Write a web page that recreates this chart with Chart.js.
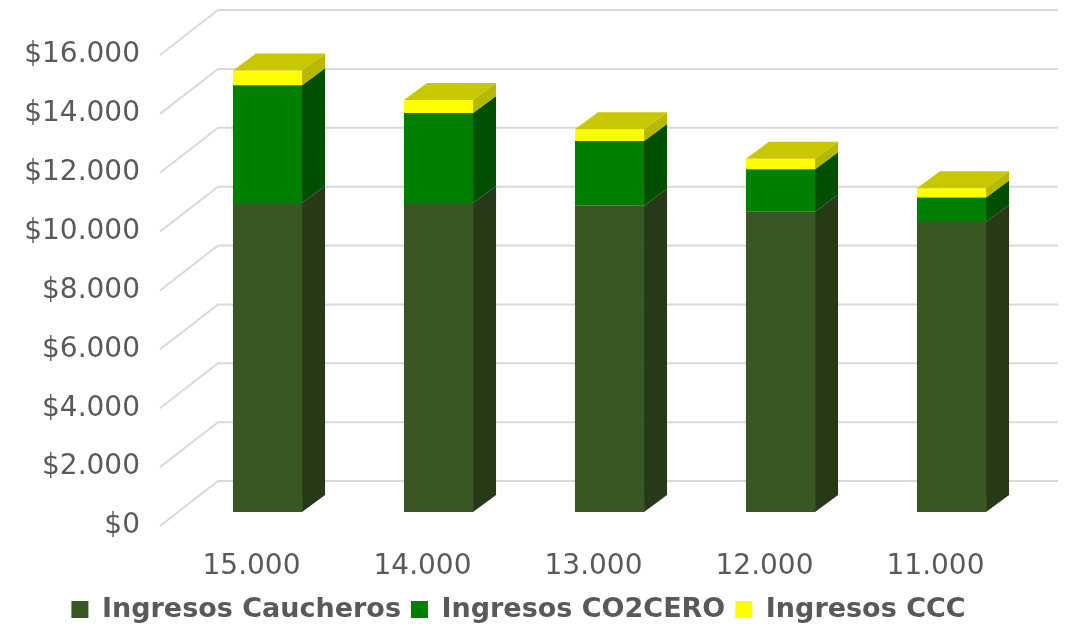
<!DOCTYPE html>
<html>
<head>
<meta charset="utf-8">
<script src="https://cdn.jsdelivr.net/npm/chart.js@4/dist/chart.umd.min.js"></script>
<style>
    html, body { margin: 0; padding: 0; background: #fff; }
    #wrap { width: 1071px; height: 629px; }
</style>
</head>
<body>
<div id="wrap"><canvas id="ingresos"></canvas></div>
<script>
const categorias = ['15.000', '14.000', '13.000', '12.000', '11.000'];
const ingresosCaucheros = [10500, 10500, 10400, 10200, 9850];
const ingresosCO2CERO = [4000, 3050, 2200, 1440, 830];
const ingresosCCC = [500, 450, 400, 360, 320];
const ejeY = {min: 0, max: 16000, paso: 2000};

const FUENTE = '"DejaVu Sans", sans-serif';
const GRIS = '#595959';

// profundidad de las barras y del "piso" (pseudo 3D)
const PROF_BARRA = {dx: 23, dy: -17};
const PISO_FRENTE = {dx: -22, dy: 14};
const PISO_FONDO = {dx: 36, dy: -31};

const caras = [
    {frente: '#3a5723', lado: '#263a17', arriba: '#4a6b2e'},
    {frente: '#007f00', lado: '#004f00', arriba: '#00a000'},
    {frente: '#ffff00', lado: '#b8b800', arriba: '#c8c800'},
];

function formatoPesos(v) {
    return '$' + String(v).replace(/\B(?=(\d{3})+(?!\d))/g, '.');
}

function poligono(ctx, pts, color) {
    ctx.beginPath();
    ctx.moveTo(pts[0][0], pts[0][1]);
    pts.slice(1).forEach(p => ctx.lineTo(p[0], p[1]));
    ctx.closePath();
    ctx.fillStyle = color;
    ctx.fill();
}

const barras3d = {
    id: 'barras3d',
    beforeDatasetsDraw(chart) {
        const {ctx, chartArea, scales: {y}} = chart;
        ctx.save();
        ctx.strokeStyle = '#d9d9d9';
        ctx.lineWidth = 2;
        y.ticks.forEach(t => {
            const py = y.getPixelForValue(t.value);
            ctx.beginPath();
            ctx.moveTo(chartArea.left + PISO_FRENTE.dx, py + PISO_FRENTE.dy);
            ctx.lineTo(chartArea.left + PISO_FONDO.dx, py + PISO_FONDO.dy);
            ctx.lineTo(chartArea.right + 21, py + PISO_FONDO.dy);
            ctx.stroke();
        });
        ctx.restore();
    },
    afterDatasetsDraw(chart) {
        const {ctx} = chart;
        const ultimo = chart.data.datasets.length - 1;
        ctx.save();
        chart.data.datasets.forEach((ds, i) => {
            chart.getDatasetMeta(i).data.forEach(el => {
                const xl = el.x - el.width / 2;
                const xr = el.x + el.width / 2;
                const {dx, dy} = PROF_BARRA;
                poligono(ctx, [[xr, el.y], [xr + dx, el.y + dy], [xr + dx, el.base + dy], [xr, el.base]], caras[i].lado);
                if (i === ultimo) {
                    poligono(ctx, [[xl, el.y], [xr, el.y], [xr + dx, el.y + dy], [xl + dx, el.y + dy]], caras[i].arriba);
                }
            });
        });
        ctx.restore();
    }
};

const serie = (label, data, i) => ({
    label: label,
    data: data,
    backgroundColor: caras[i].frente,
    borderWidth: 0,
    categoryPercentage: 1,
    barPercentage: 0.404,
});

new Chart(document.getElementById('ingresos').getContext('2d'), {
    type: 'bar',
    data: {
        labels: categorias,
        datasets: [
            serie('Ingresos Caucheros', ingresosCaucheros, 0),
            serie('Ingresos CO2CERO', ingresosCO2CERO, 1),
            serie('Ingresos CCC', ingresosCCC, 2),
        ]
    },
    options: {
        responsive: true,
        maintainAspectRatio: false,
        animation: false,
        layout: {padding: {top: 41, right: 34, bottom: -4, left: 0}},
        plugins: {
            tooltip: {enabled: false},
            legend: {
                position: 'bottom',
                labels: {
                    color: GRIS,
                    boxWidth: 17,
                    boxHeight: 17,
                    padding: 10,
                    font: {family: FUENTE, size: 27, weight: 'bold'}
                }
            }
        },
        scales: {
            x: {
                stacked: true,
                grid: {display: false, drawTicks: false},
                border: {display: false},
                ticks: {
                    color: GRIS,
                    padding: 38,
                    labelOffset: -16,
                    font: {family: FUENTE, size: 28}
                },
                afterFit: s => { s.height = 74; }
            },
            y: {
                stacked: true,
                min: ejeY.min,
                max: ejeY.max,
                grid: {display: false, drawTicks: false},
                border: {display: false},
                ticks: {
                    stepSize: ejeY.paso,
                    color: GRIS,
                    padding: 42,
                    labelOffset: 14,
                    font: {family: FUENTE, size: 28},
                    callback: formatoPesos
                },
                afterFit: s => {
                    s.width = 182;
                    // el padding de los ticks no debe empujar el área del gráfico
                    s.paddingTop = 0;
                    s.paddingBottom = 0;
                }
            }
        }
    },
    plugins: [barras3d]
});
</script>
</body>
</html>
